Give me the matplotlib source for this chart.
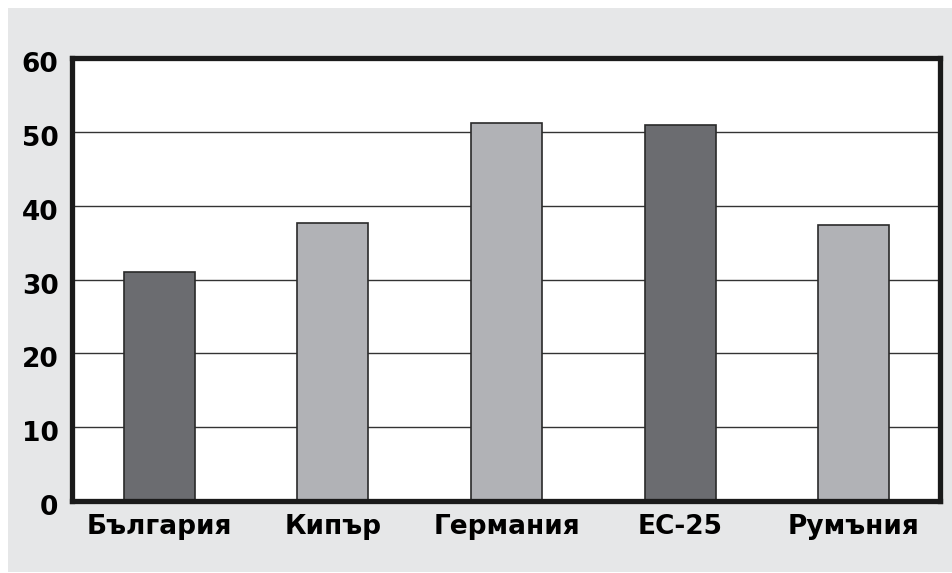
import matplotlib.pyplot as plt
import matplotlib.patches as patches
import matplotlib.transforms as mtransforms

# Data
categories = ['България', 'Кипър', 'Германия', 'ЕС-25', 'Румъния']
values = [31.0, 37.7, 51.2, 50.9, 37.4]
bar_colors = ['#6b6c70', '#b1b2b6', '#b1b2b6', '#6b6c70', '#b1b2b6']
yticks = [0, 10, 20, 30, 40, 50, 60]

W, H = 953, 573
fig = plt.figure(figsize=(W / 100, H / 100), dpi=100)
fig.patch.set_facecolor('white')

# grey panel behind the chart
bg = patches.Rectangle((8 / W, 1 / H), 1 - 8 / W, 1 - 9 / H, transform=fig.transFigure,
                       facecolor='#e6e7e8', edgecolor='none', zorder=-5)
fig.patches.append(bg)

left, right = 72.5 / W, 940.5 / W
bottom, top = (H - 501) / H, (H - 58) / H
ax = fig.add_axes([left, bottom, right - left, top - bottom])
ax.set_facecolor('white')

font = ['Liberation Sans Narrow', 'DejaVu Sans']

x = range(len(categories))
ax.bar(x, values, width=0.41, color=bar_colors, edgecolor='#2a2a2a',
       linewidth=1.2, zorder=3)

ax.set_xlim(-0.5, len(categories) - 0.5)
ax.set_ylim(0, 60)
ax.set_yticks(yticks)
ax.yaxis.grid(True, color='#333333', linewidth=1.0, zorder=1)
ax.set_axisbelow(True)

ax.set_xticks(list(x))
ax.set_xticklabels(categories, fontsize=19, fontweight='bold', family=font)
ax.set_yticklabels([str(t) for t in yticks], fontsize=19, fontweight='bold', family=font)
ax.tick_params(axis='both', length=0)
ax.tick_params(axis='y', pad=10)
ax.tick_params(axis='x', pad=9)

# y labels sit a touch below their gridlines in the original
shift = mtransforms.ScaledTranslation(0, -4 / 100, fig.dpi_scale_trans)
for lab in ax.get_yticklabels():
    lab.set_transform(lab.get_transform() + shift)

for s in ax.spines.values():
    s.set_linewidth(3.8)
    s.set_color('#1a1a1a')
    s.set_zorder(5)

fig.savefig('out.png', dpi=100)
